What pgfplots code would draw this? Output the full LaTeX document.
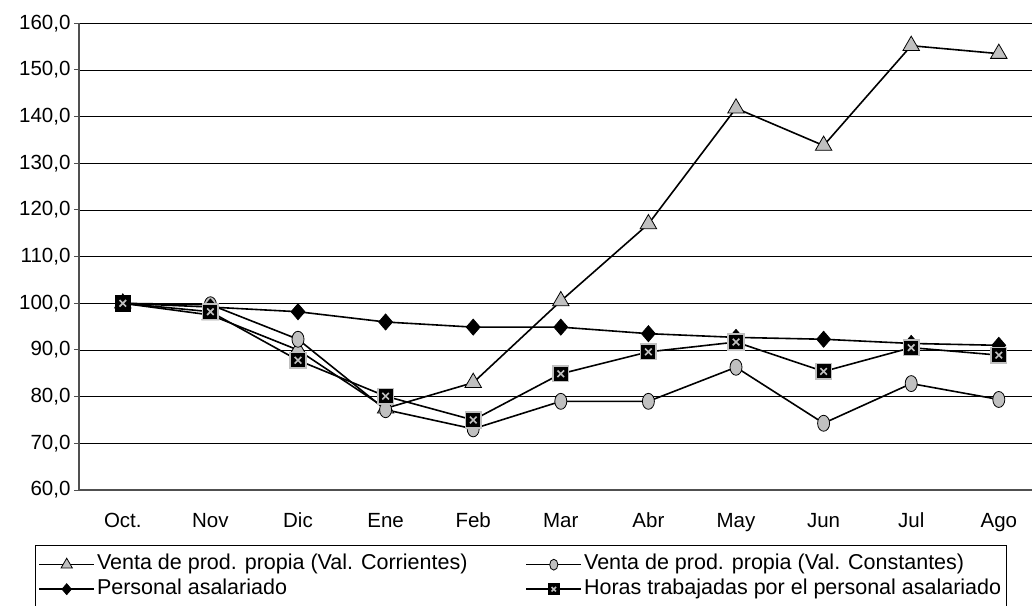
\documentclass[border=0pt]{standalone}
\usepackage{pgfplots}
\pgfplotsset{compat=1.18}
\usepackage{fontspec}
\setmainfont{Liberation Sans}
\definecolor{markgray}{RGB}{192,192,192}
\definecolor{axgray}{RGB}{80,80,80}
\pgfdeclareplotmark{sqx}{%
  \pgfpathrectangle{\pgfqpoint{-\pgfplotmarksize}{-\pgfplotmarksize}}{\pgfqpoint{2\pgfplotmarksize}{2\pgfplotmarksize}}%
  \pgfusepathqfillstroke
  \pgfsetstrokecolor{markgray}%
  \pgfsetlinewidth{1.6pt}%
  \pgfpathmoveto{\pgfqpoint{-0.42\pgfplotmarksize}{-0.42\pgfplotmarksize}}%
  \pgfpathlineto{\pgfqpoint{0.42\pgfplotmarksize}{0.42\pgfplotmarksize}}%
  \pgfpathmoveto{\pgfqpoint{-0.42\pgfplotmarksize}{0.42\pgfplotmarksize}}%
  \pgfpathlineto{\pgfqpoint{0.42\pgfplotmarksize}{-0.42\pgfplotmarksize}}%
  \pgfusepathqstroke
}
\newcommand{\cf}{\fontsize{20.5}{24}\selectfont}
\newcommand{\lf}{\fontsize{21.5}{25}\selectfont}
\begin{document}
\begin{tikzpicture}
\begin{axis}[
  scale only axis,
  width=963.6pt, height=466.7pt,
  xmin=-0.5, xmax=10.5,
  ymin=60, ymax=160,
  axis x line*=bottom, axis y line*=left,
  axis line style={axgray, line width=1.4pt},
  xtick={0,...,10},
  xticklabels={Oct.,Nov,Dic,Ene,Feb,Mar,Abr,May,Jun,Jul,Ago},
  x tick style={draw=none},
  extra x ticks={0.5,1.5,...,9.5},
  extra x tick labels={},
  extra x tick style={grid=none, major tick length=5pt, tick style={draw=axgray, line width=1pt}},
  ytick={60,70,...,160},
  y tick style={draw=axgray, line width=1pt},
  tick align=outside,
  major tick length=5pt,
  ymajorgrids,
  major grid style={black, line width=0.9pt},
  ticklabel style={font=\cf},
  /pgf/number format/assume math mode=true,
  yticklabel style={/pgf/number format/.cd, fixed, fixed zerofill, precision=1, use comma},
  xticklabel style={yshift=-14pt, text height=15pt, text depth=4pt},
  legend columns=2,
  legend cell align=left,
  legend style={at={(rel axis cs:-0.0457,-0.1178)}, anchor=north west,
    font=\lf, draw=black, line width=0.9pt, inner xsep=3pt, inner ysep=7pt,
    nodes={inner ysep=2pt, text height=15.5pt, text depth=5pt},
    /tikz/every even column/.append style={column sep=56pt}},
  legend image code/.code={%
    \draw[#1, mark=none, line width=1.6pt] (0pt,0pt) -- (55pt,0pt);
    \draw[#1, every mark/.append style={scale=0.68}] plot coordinates {(27.5pt,0pt)};},
  every axis plot/.append style={black, line width=1.6pt},
]
\addplot[mark=triangle*, mark size=9.5pt, mark options={fill=markgray, draw=black, line width=0.8pt}]
  coordinates {(0,100) (1,97.5) (2,90) (3,77.5) (4,83) (5,100.5) (6,117) (7,141.8) (8,133.8) (9,155.2) (10,153.5)};
\addlegendentry{Venta de prod. propia (Val. Corrientes)}
\addplot[mark=*, mark size=6pt, mark options={fill=markgray, draw=black, line width=0.8pt, yscale=1.33}]
  coordinates {(0,100) (1,99.7) (2,92.3) (3,77.2) (4,73.1) (5,79) (6,79) (7,86.3) (8,74.3) (9,82.8) (10,79.4)};
\addlegendentry{Venta de prod. propia (Val. Constantes)}
\addplot[mark=diamond*, mark size=8pt, mark options={fill=black, draw=black, line width=0.8pt, xscale=1.15}]
  coordinates {(0,100) (1,99.2) (2,98.2) (3,96.0) (4,94.9) (5,94.9) (6,93.5) (7,92.7) (8,92.3) (9,91.4) (10,91.0)};
\addlegendentry{Personal asalariado}
\addplot[mark=sqx, mark size=7.8pt, mark options={fill=black, draw=black, line width=0.8pt}]
  coordinates {(0,100) (1,98.2) (2,87.8) (3,80.1) (4,75.0) (5,84.9) (6,89.6) (7,91.7) (8,85.4) (9,90.5) (10,88.9)};
\addlegendentry{Horas trabajadas por el personal asalariado}
\end{axis}
\pgfresetboundingbox
\useasboundingbox (-79pt,-115pt) rectangle (953pt,490pt);
\end{tikzpicture}
\end{document}
